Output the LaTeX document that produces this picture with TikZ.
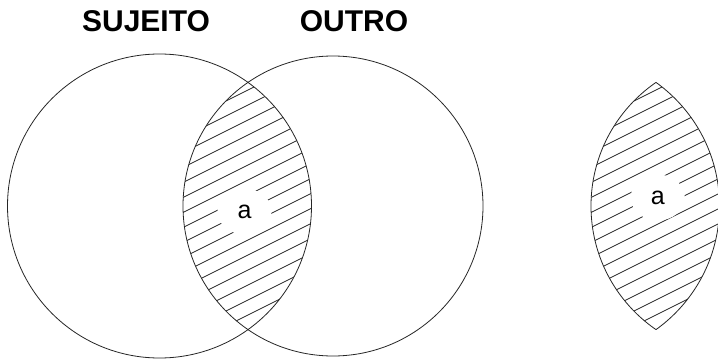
\documentclass[tikz,border=0pt]{standalone}
\usepackage{fontspec}
\setmainfont{Liberation Sans}
\usetikzlibrary{shapes.geometric}
\begin{document}
\begin{tikzpicture}[x=1pt,y=-1pt,
  outline/.style={draw=black!85, line width=0.8pt},
  hatchline/.style={draw=black!85, line width=0.75pt},
  title/.style={font=\bfseries\fontsize{30}{36}\selectfont, inner sep=0pt},
  gaplabel/.style={ellipse, fill=white, inner sep=0pt, minimum width=54pt, minimum height=46pt, font=\fontsize{25}{30}\selectfont}]
\useasboundingbox (0,0) rectangle (718,361);
\fill[white] (0,0) rectangle (718,361);
\coordinate (cL) at (159.5,206);
\coordinate (cR) at (333,206);
\coordinate (dL) at (567.5,206);
\coordinate (dR) at (741,206);
% hatching of the intersection
\begin{scope}
  \clip (cL) circle (152);
  \clip (cR) circle (150);
  \foreach \k in {-14,...,14}
    \draw[hatchline] (140,{249+15*\k}) -- (360,{139+15*\k});
\end{scope}
\node[gaplabel] (a1) at (244.5,211.5) {a};
% circles
\draw[outline] (cL) circle (152);
\draw[outline] (cR) circle (150);
% separate lens
\begin{scope}
  \clip (0,0) rectangle (718,361);
  \begin{scope}
    \clip (dL) circle (152);
    \clip (dR) circle (150);
    \foreach \k in {-14,...,14}
      \draw[hatchline] (548,{249+15*\k}) -- (768,{139+15*\k});
  \end{scope}
  \begin{scope}
    \clip (dR) circle (150);
    \draw[outline] (dL) circle (152);
  \end{scope}
  \begin{scope}
    \clip (dL) circle (152);
    \draw[outline] (dR) circle (150);
  \end{scope}
\end{scope}
\node[gaplabel] (a2) at (657.8,197.5) {a};
% titles
\node[title] (s) at (146,21) {SUJEITO};
\node[title] (o) at (354,21) {OUTRO};
\end{tikzpicture}
\end{document}
